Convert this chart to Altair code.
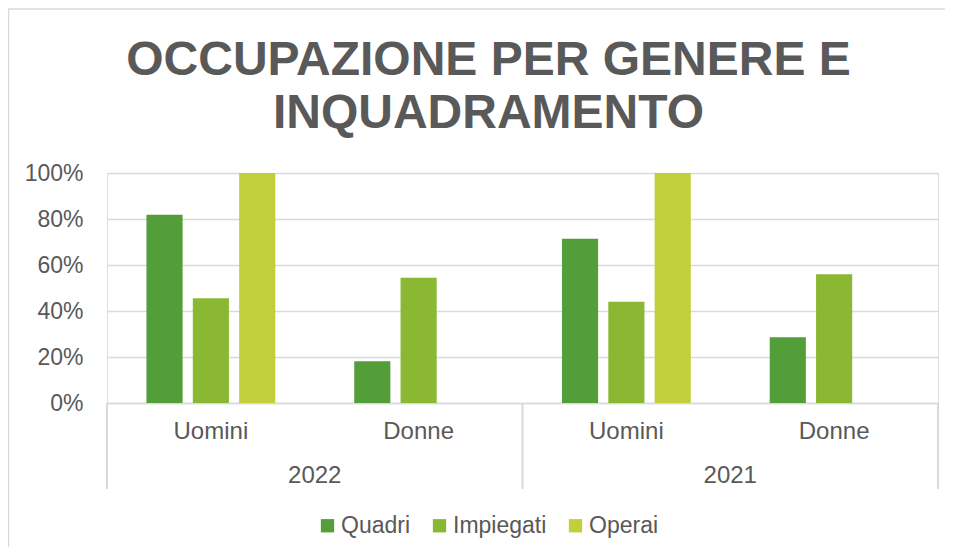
import altair as alt
import pandas as pd

# ---- data ----
years = ["2022", "2021"]
genders = ["Uomini", "Donne"]
series = ["Quadri", "Impiegati", "Operai"]
colors = ["#549E39", "#8AB833", "#C0CF3A"]

# values per (year, gender) in order: 2022 Uomini, 2022 Donne, 2021 Uomini, 2021 Donne
quadri = [0.818, 0.182, 0.714, 0.286]
impiegati = [0.455, 0.545, 0.44, 0.56]
operai = [1.0, 0.0, 1.0, 0.0]

y_ticks = [0, 0.2, 0.4, 0.6, 0.8, 1.0]

title_lines = ["OCCUPAZIONE PER GENERE E", "INQUADRAMENTO"]

# ---- tables ----
keys = [f"{y}|{g}" for y in years for g in genders]
rows = []
for i, k in enumerate(keys):
    for s, vals in zip(series, [quadri, impiegati, operai]):
        rows.append({"key": k, "serie": s, "value": vals[i]})
df = pd.DataFrame(rows)

df_years = pd.DataFrame({"year": years, "center": [i + 0.5 for i in range(len(years))]})
df_bounds = pd.DataFrame({"b": list(range(len(years) + 1))})
df_one = pd.DataFrame({"k": [0]})

W, H = 831, 230
BOTTOM = 144
TXT = "#595959"
GRID = "#D9D9D9"
FONT = "Liberation Sans"

bars = alt.Chart(df).mark_bar().encode(
    x=alt.X("key:N", sort=keys,
            scale=alt.Scale(paddingInner=0.38, paddingOuter=0.19),
            axis=alt.Axis(title=None, labelExpr="split(datum.value, '|')[1]",
                          labelAngle=0, ticks=False, grid=False,
                          domainColor=GRID, domainWidth=1.5,
                          labelFontSize=24, labelColor=TXT, labelFont=FONT,
                          labelPadding=16)),
    xOffset=alt.XOffset("serie:N", sort=series,
                        scale=alt.Scale(paddingInner=0.22, paddingOuter=0)),
    y=alt.Y("value:Q", scale=alt.Scale(domain=[0, 1], nice=False),
            axis=alt.Axis(title=None, format=".0%", values=y_ticks,
                          domain=False, ticks=False, gridColor=GRID, gridWidth=1.5,
                          labelFontSize=23, labelColor=TXT, labelFont=FONT,
                          labelPadding=24)),
    color=alt.Color("serie:N", sort=series,
                    scale=alt.Scale(domain=series, range=colors),
                    legend=alt.Legend(orient="none", legendX=209, legendY=341,
                                      direction="horizontal", title=None,
                                      symbolType="square", symbolSize=177,
                                      symbolStrokeWidth=0,
                                      labelFontSize=23, labelColor=TXT, labelFont=FONT,
                                      columnPadding=17, labelOffset=2)),
)

xs = alt.Scale(domain=[0, len(years)], nice=False, zero=False)

year_text = alt.Chart(df_years).mark_text(
    fontSize=24, color=TXT, font=FONT, baseline="middle"
).encode(
    x=alt.X("center:Q", scale=xs, axis=None),
    y=alt.value(H + 73),
    text="year:N",
)

separators = alt.Chart(df_bounds).mark_rule(color=GRID, strokeWidth=2).encode(
    x=alt.X("b:Q", scale=xs, axis=None),
    y=alt.value(H),
    y2=alt.value(H + 86),
)

# light chart-area border (its right and bottom edges fall outside the page, as in the reference)
frame = alt.Chart(df_one).mark_rect(filled=False, stroke=GRID, strokeWidth=1.5).encode(
    x=alt.value(-98.5), x2=alt.value(W + 60),
    y=alt.value(-164), y2=alt.value(H + BOTTOM + 40),
)

chart = alt.layer(bars, year_text, separators, frame).resolve_scale(
    x="independent"
).properties(
    width=W, height=H,
    autosize=alt.AutoSizeParams(type="none"),
    padding={"left": 99, "top": 165, "right": 7, "bottom": BOTTOM},
    title=alt.Title(text=title_lines, fontSize=48, fontWeight="bold", color=TXT,
                    font=FONT, lineHeight=53, anchor="middle", frame="group",
                    dx=-34, offset=-130),
).configure_view(stroke=None).configure(font=FONT)

chart.save("out.html", embed_options={"renderer": "svg", "actions": False})
